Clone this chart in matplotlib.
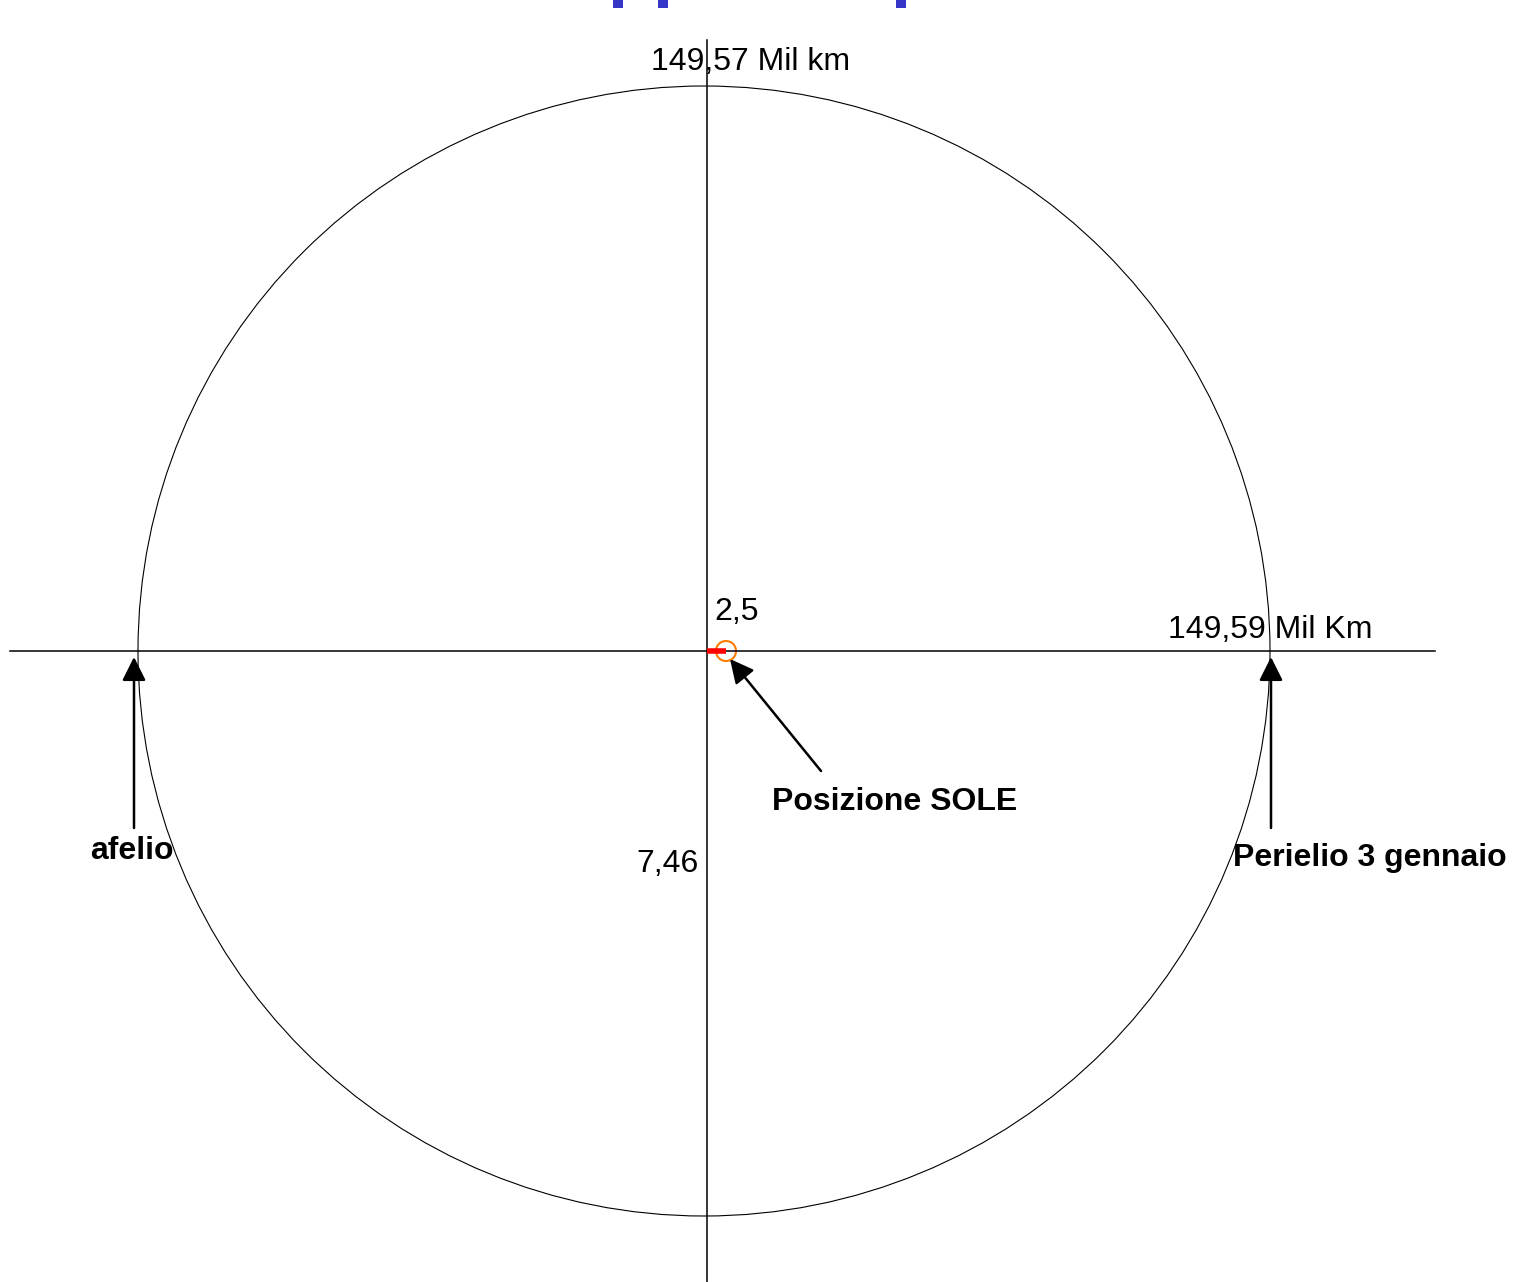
import matplotlib.pyplot as plt
from matplotlib.patches import Ellipse, Circle, Rectangle

plt.rcParams['font.family'] = ['Liberation Sans', 'DejaVu Sans']

# diagram units (about one pixel each), origin where the two axes cross
orbit_centre = (-3, 0)
orbit_semi_axes = [566, 565]
sun_offset = 19
sun_radius = 10
view_x = [-707, 806]
view_y = [-631, 651]
axis_x = [-697, 728]
axis_y = [-631, 611]

label_texts = ["149,57 Mil km", "2,5", "149,59 Mil Km", "7,46"]
label_pos = [(44, 589), (30, 39), (563, 21), (-40, -213)]

arrow_texts = ["afelio", "Perielio 3 gennaio", "Posizione SOLE"]
arrow_tips = [(-573, -6), (564, -6), (23, -8)]
arrow_tails = [(-573, -177), (564, -177), (114, -120)]
arrow_text_pos = [(-575, -200), (663, -207), (188, -151)]

# fragments of the cut-off blue title at the top edge
title_bits_x = [613, 658, 896]

fig = plt.figure(figsize=(15.13, 12.82), dpi=100)
ax = fig.add_axes([0, 0, 1, 1])
ax.set_xlim(view_x)
ax.set_ylim(view_y)
ax.axis('off')

ax.plot(axis_x, [0, 0], color='black', lw=1.1)
ax.plot([0, 0], axis_y, color='black', lw=1.1)

ax.add_patch(Ellipse(orbit_centre, 2 * orbit_semi_axes[0], 2 * orbit_semi_axes[1],
                     fill=False, edgecolor='black', lw=0.8))

ax.plot([0, sun_offset], [0, 0], color='#ff0000', lw=4, solid_capstyle='butt')
ax.add_patch(Circle((sun_offset, 0), sun_radius, fill=False,
                    edgecolor='#ff7a00', lw=1.5))

for txt, pos in zip(label_texts, label_pos):
    ax.text(pos[0], pos[1], txt, fontsize=23, ha='center', va='center')

for txt, tip, tail, tpos in zip(arrow_texts, arrow_tips, arrow_tails, arrow_text_pos):
    ax.annotate('', xy=tip, xytext=tail,
                arrowprops=dict(arrowstyle='-|>,head_length=0.6,head_width=0.3',
                                mutation_scale=24, color='black', lw=1.8,
                                shrinkA=0, shrinkB=0))
    ax.text(tpos[0], tpos[1], txt, fontsize=23, fontweight='bold',
            ha='center', va='center')

for bx in title_bits_x:
    ax.add_patch(Rectangle((bx - 707, 651 - 8), 10, 8, color='#3535c8', lw=0))

fig.savefig('out.png', dpi=100)
